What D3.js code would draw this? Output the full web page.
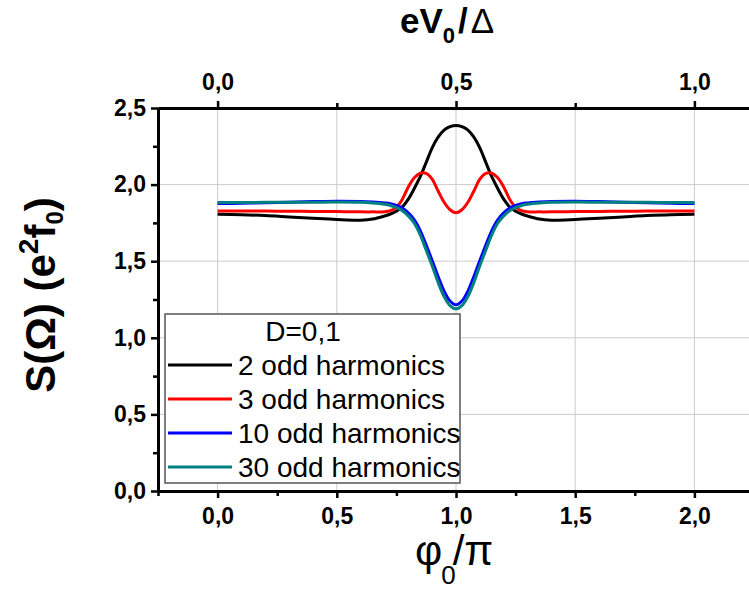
<!DOCTYPE html>
<html>
<head>
<meta charset="utf-8">
<script src="https://cdn.jsdelivr.net/npm/d3@7"></script>
<style>
  html, body { margin: 0; padding: 0; background: #fff; }
  svg { display: block; }
  text { font-family: "Liberation Sans", Arial, sans-serif; }
</style>
</head>
<body>
<svg id="chart" width="749" height="592"></svg>
<script>
// ---------- data ----------
const phi = [0, 0.1, 0.2, 0.3, 0.4, 0.5, 0.6, 0.65, 0.7, 0.725, 0.75, 0.775, 0.8, 0.825, 0.85, 0.875, 0.9, 0.925, 0.95, 0.975,
  1.0, 1.025, 1.05, 1.075, 1.1, 1.125, 1.15, 1.175, 1.2, 1.225, 1.25, 1.275, 1.3, 1.35, 1.4, 1.5, 1.6, 1.7, 1.8, 1.9, 2.0];

const odd2 = [1.806, 1.804, 1.798, 1.789, 1.780, 1.772, 1.768, 1.775, 1.795, 1.808, 1.826, 1.855, 1.905, 1.975, 2.052, 2.145, 2.240, 2.310, 2.356, 2.378,
  2.386, 2.378, 2.356, 2.310, 2.240, 2.145, 2.052, 1.975, 1.905, 1.855, 1.826, 1.808, 1.795, 1.775, 1.768, 1.772, 1.780, 1.789, 1.798, 1.804, 1.806];

const odd3 = [1.828, 1.828, 1.827, 1.826, 1.825, 1.824, 1.822, 1.822, 1.823, 1.830, 1.852, 1.905, 1.985, 2.045, 2.075, 2.074, 2.036, 1.958, 1.885, 1.836,
  1.817, 1.836, 1.885, 1.958, 2.036, 2.074, 2.075, 2.045, 1.985, 1.905, 1.852, 1.830, 1.823, 1.822, 1.822, 1.824, 1.825, 1.826, 1.827, 1.828, 1.828];

const odd10 = [1.876, 1.878, 1.881, 1.885, 1.889, 1.892, 1.890, 1.886, 1.880, 1.875, 1.864, 1.847, 1.815, 1.770, 1.700, 1.605, 1.505, 1.400, 1.305, 1.240,
  1.215, 1.240, 1.305, 1.400, 1.505, 1.605, 1.700, 1.770, 1.815, 1.847, 1.864, 1.875, 1.880, 1.886, 1.890, 1.892, 1.889, 1.885, 1.881, 1.878, 1.876];

const odd30 = [1.883, 1.883, 1.884, 1.884, 1.885, 1.886, 1.884, 1.880, 1.872, 1.864, 1.850, 1.830, 1.796, 1.748, 1.672, 1.572, 1.470, 1.362, 1.270, 1.210,
  1.189, 1.210, 1.270, 1.362, 1.470, 1.572, 1.672, 1.748, 1.796, 1.830, 1.850, 1.864, 1.872, 1.880, 1.884, 1.886, 1.885, 1.884, 1.884, 1.883, 1.883];

const seriesNames = ["2 odd harmonics", "3 odd harmonics", "10 odd harmonics", "30 odd harmonics"];
const seriesColors = ["#000000", "#ff0000", "#0000ff", "#008080"];
const seriesValues = [odd2, odd3, odd10, odd30];
const legendTitle = "D=0,1";

const xMajorTicks = [0, 0.5, 1.0, 1.5, 2.0];
const xMinorTicks = [-0.25, 0.25, 0.75, 1.25, 1.75, 2.25];
const topMajorTicks = [0, 0.5, 1.0];
const topMinorTicks = [0.25, 0.75];
const yMajorTicks = [0, 0.5, 1.0, 1.5, 2.0, 2.5];
const yMinorTicks = [0.25, 0.75, 1.25, 1.75, 2.25];

// ---------- layout ----------
const svg = d3.select("#chart");
const L = 158, R = 754, T = 108, B = 491;

const x = d3.scaleLinear().domain([-0.25, 2.25]).range([L, R]);
const xTop = d3.scaleLinear().domain([-0.125, 1.125]).range([L, R]);
const y = d3.scaleLinear().domain([0, 2.5]).range([B, T]);
const fmt = d => d3.format(".1f")(d).replace(".", ",");

// grid
const grid = svg.append("g").attr("stroke", "#cccccc").attr("stroke-width", 1);
grid.selectAll("line.v").data(xMajorTicks).join("line")
  .attr("x1", d => x(d)).attr("x2", d => x(d)).attr("y1", T).attr("y2", B);
grid.selectAll("line.h").data(yMajorTicks.filter(d => d > 0 && d < 2.5)).join("line")
  .attr("x1", L).attr("x2", R).attr("y1", d => y(d)).attr("y2", d => y(d));

// curves
const line = d3.line().x((d, i) => x(phi[i])).y(d => y(d)).curve(d3.curveCatmullRom.alpha(0.5));
svg.append("g").selectAll("path").data(seriesValues).join("path")
  .attr("d", d => line(d)).attr("fill", "none")
  .attr("stroke", (d, i) => seriesColors[i]).attr("stroke-width", 3)
  .attr("stroke-linejoin", "round");

// legend
const lg = svg.append("g");
lg.append("rect").attr("x", 165).attr("y", 314).attr("width", 295).attr("height", 169)
  .attr("fill", "#fff").attr("stroke", "#555").attr("stroke-width", 1.5);
lg.append("text").attr("x", 303).attr("y", 341).attr("text-anchor", "middle")
  .attr("font-size", 28).text(legendTitle);
seriesNames.forEach((name, i) => {
  const yy = 365 + i * 34;
  lg.append("line").attr("x1", 168).attr("x2", 232).attr("y1", yy).attr("y2", yy)
    .attr("stroke", seriesColors[i]).attr("stroke-width", 3);
  lg.append("text").attr("x", 238).attr("y", yy + 10).attr("font-size", 28).text(name);
});

// axes
function styleAxis(g) {
  g.select(".domain").attr("stroke", "#000").attr("stroke-width", 3);
  g.selectAll(".tick line").attr("stroke", "#000").attr("stroke-width", 2.5);
  g.selectAll(".tick text").attr("font-family", "Liberation Sans, Arial, sans-serif")
    .attr("font-size", 23).attr("font-weight", "bold").attr("fill", "#000");
}
// minor ticks
svg.append("g").attr("transform", `translate(0,${B})`)
  .call(d3.axisBottom(x).tickValues(xMinorTicks).tickSize(5).tickFormat("").tickSizeOuter(0))
  .call(styleAxis);
svg.append("g").attr("transform", `translate(0,${T})`)
  .call(d3.axisTop(xTop).tickValues(topMinorTicks).tickSize(5).tickFormat("").tickSizeOuter(0))
  .call(styleAxis);
svg.append("g").attr("transform", `translate(${L},0)`)
  .call(d3.axisLeft(y).tickValues(yMinorTicks).tickSize(5).tickFormat("").tickSizeOuter(0))
  .call(styleAxis);
// major ticks
svg.append("g").attr("transform", `translate(0,${B})`)
  .call(d3.axisBottom(x).tickValues(xMajorTicks).tickSize(7).tickPadding(10).tickFormat(fmt).tickSizeOuter(0))
  .call(styleAxis);
svg.append("g").attr("transform", `translate(0,${T})`)
  .call(d3.axisTop(xTop).tickValues(topMajorTicks).tickSize(7).tickPadding(11).tickFormat(fmt).tickSizeOuter(0))
  .call(styleAxis);
svg.append("g").attr("transform", `translate(${L},0)`)
  .call(d3.axisLeft(y).tickValues(yMajorTicks).tickSize(7).tickPadding(5).tickFormat(fmt).tickSizeOuter(0))
  .call(styleAxis);

// axis titles
const yt = svg.append("text").attr("transform", "translate(55,295) rotate(-90)")
  .attr("text-anchor", "middle").attr("font-size", 42).attr("font-weight", "bold");
yt.append("tspan").text("S(Ω) (e");
yt.append("tspan").attr("font-size", 28).attr("dy", -17).text("2");
yt.append("tspan").attr("dy", 17).text("f");
yt.append("tspan").attr("font-size", 24).attr("dy", 8).text("0");
yt.append("tspan").attr("dy", -8).text(")");

const xt = svg.append("text").attr("x", 415).attr("y", 565).attr("font-size", 42);
xt.append("tspan").text("φ");
xt.append("tspan").attr("font-size", 26).attr("dx", -1).attr("dy", 19).text("0");
xt.append("tspan").attr("dy", -19).attr("dx", -3).text("/π");

const tt = svg.append("text").attr("x", 400).attr("y", 33).attr("font-size", 35);
tt.append("tspan").attr("font-weight", "bold").text("eV");
tt.append("tspan").attr("font-weight", "bold").attr("font-size", 22).attr("dy", 10).text("0");
tt.append("tspan").attr("font-weight", "bold").attr("dy", -10).attr("dx", 3).text("/");
tt.append("tspan").attr("dx", 3).attr("font-size", 35).text("Δ");
</script>
</body>
</html>
